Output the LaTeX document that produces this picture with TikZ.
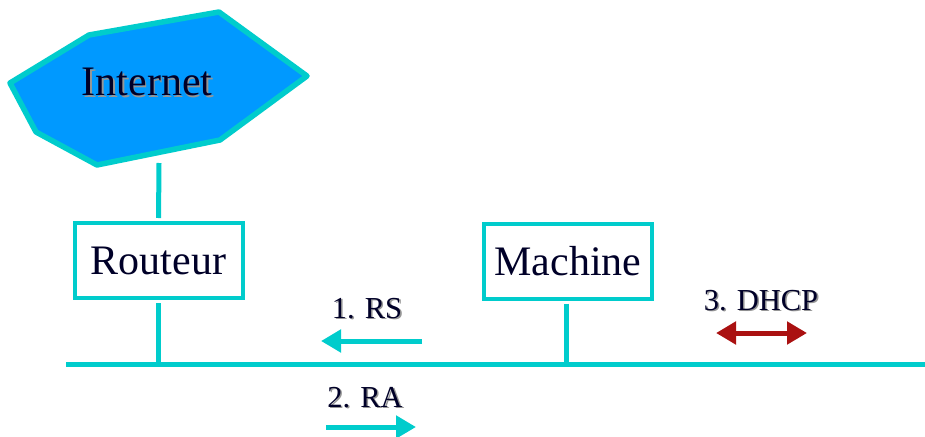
\documentclass[tikz,border=0pt]{standalone}
\usepackage{fontspec}
\setmainfont{Liberation Serif}
\usetikzlibrary{arrows.meta}
\definecolor{cyanline}{RGB}{0,204,204}
\definecolor{netblue}{RGB}{0,153,255}
\definecolor{darkred}{RGB}{170,17,17}
\definecolor{txt}{RGB}{0,0,40}
\definecolor{shgray}{RGB}{150,150,150}
\newcommand\shtx[1]{\makebox[0pt][l]{\kern1.6pt\raisebox{-1.6pt}{\color{shgray}#1}}#1}
\tikzset{
  wire/.style={draw=cyanline,line width=5pt},
  hostbox/.style={draw=cyanline,line width=4pt,fill=white,minimum width=168pt,minimum height=75pt,inner sep=0pt,text=txt,font=\fontsize{42}{48}\selectfont},
  biglbl/.style={text=txt,inner sep=0pt,font=\fontsize{42}{48}\selectfont},
  smalllbl/.style={text=txt,inner sep=0pt,font=\fontsize{30.5}{36}\selectfont},
  cyarrow/.style={draw=cyanline,line width=5pt,-{Triangle[length=20pt,width=22pt]}},
  redarrow/.style={draw=darkred,line width=5pt,{Triangle[length=20pt,width=22pt]}-{Triangle[length=20pt,width=22pt]}}
}
\begin{document}
\begin{tikzpicture}[x=1pt,y=-1pt]
\useasboundingbox (0,0) rectangle (925,436);
% Internet cloud (hexagon)
\draw[draw=cyanline,fill=netblue,line width=5.5pt,line join=round]
  (10,83) -- (89,35) -- (219,12) -- (307,76) -- (220,140) -- (97,165) -- (36,132) -- cycle;
\node[biglbl] (inet) at (147,83) {\shtx{Internet}};
\coordinate (inetbot) at (159,163);
% hosts
\node[hostbox] (routeur) at (158.5,260.5) {Routeur};
\node[hostbox] (machine) at (568,261) {Machine};
% bus
\coordinate (busL) at (66,364);
\coordinate (busR) at (925,364);
\draw[wire] (busL) -- (busR);
\draw[wire,shorten >=3pt] (inetbot) -- (routeur.north);
\draw[wire,shorten <=3pt] (routeur.south) -- (routeur.south |- busL);
\draw[wire,shorten <=3pt] (machine.south -| 566,0) -- (busL -| 566,0);
% messages
\node[smalllbl] (rs) at (367,309) {\shtx{1. RS}};
\coordinate (rsA) at (422,341);
\coordinate (rsB) at (321,341);
\draw[cyarrow] (rsA) -- (rsB);
\node[smalllbl] (ra) at (365,398) {\shtx{2. RA}};
\coordinate (raA) at (326,427);
\coordinate (raB) at (416,427);
\draw[cyarrow] (raA) -- (raB);
\node[smalllbl] (dhcp) at (761,301) {\shtx{3. DHCP}};
\coordinate (dhA) at (716,333);
\coordinate (dhB) at (807,333);
\draw[redarrow] (dhA) -- (dhB);
\end{tikzpicture}
\end{document}
